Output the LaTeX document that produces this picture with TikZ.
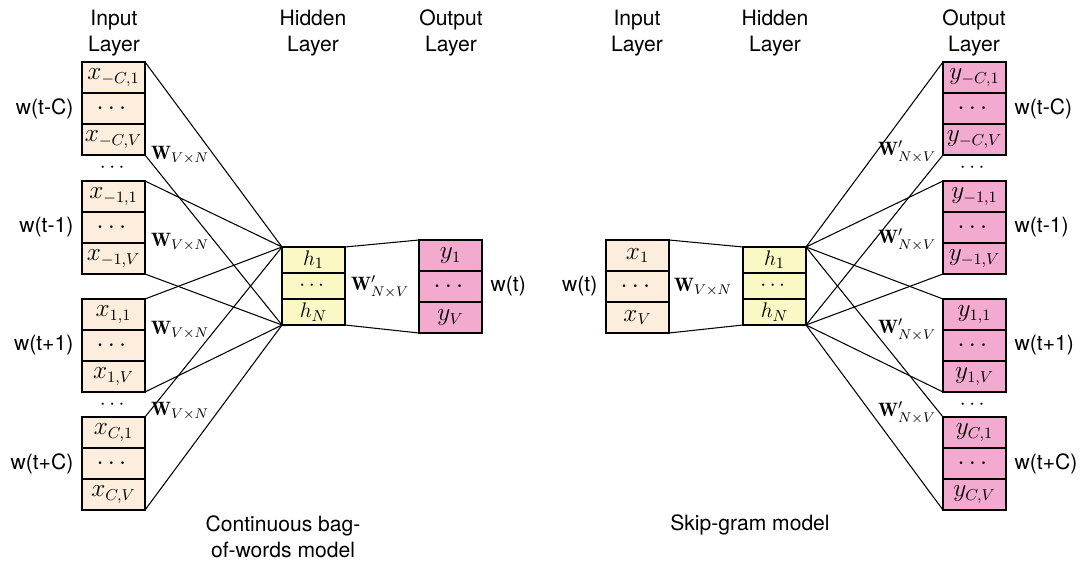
\documentclass[tikz,border=0pt]{standalone}
\usepackage{amsmath}
\usepackage{amssymb}
\usepackage{fontspec}
\setsansfont{TeX Gyre Heros}
\usepackage{tikz}
\usepackage{xcolor}
\usetikzlibrary{positioning}
\definecolor{inbg}{HTML}{FCEDDC}
\definecolor{hidbg}{HTML}{FAF8C4}
\definecolor{outbg}{HTML}{F2AACE}
\newcommand{\Wvn}{\mathbf{W}_{V\times N}}
\newcommand{\Wnv}{\mathbf{W}'_{N\times V}}

\begin{document}
\begin{tikzpicture}[x=0.2mm, y=-0.2mm, node distance=0pt,
  every node/.style={font=\sffamily\fontsize{12}{14.7}\selectfont, align=center},
  cell/.style={draw, line width=1pt, minimum width=12.6mm, minimum height=6.2mm, inner sep=0pt, outer sep=0pt, font=\fontsize{13.5}{16}\selectfont},
  incell/.style={cell, fill=inbg},
  hidcell/.style={cell, fill=hidbg, minimum height=5.2mm, font=\fontsize{12.5}{14}\selectfont},
  outcell/.style={cell, fill=outbg},
  wlabel/.style={font=\fontsize{11}{13}\selectfont},
  conn/.style={line width=0.6pt}]
  \useasboundingbox (0,0) rectangle (1080,567);

  % --- continuous bag-of-words ---
  \node at (114,33) {Input\\Layer};
  \node at (313,33) {Hidden\\Layer};
  \node at (451,33) {Output\\Layer};

  \node[incell, anchor=north west] (xc1) at (82,62) {$x_{-C,1}$};
  \node[incell, below=of xc1] (xc2) {$\cdots$};
  \node[incell, below=of xc2] (xc3) {$x_{-C,V}$};
  \node[incell, anchor=north west] (xm1) at (82,181) {$x_{-1,1}$};
  \node[incell, below=of xm1] (xm2) {$\cdots$};
  \node[incell, below=of xm2] (xm3) {$x_{-1,V}$};
  \node[incell, anchor=north west] (xp1) at (82,299) {$x_{1,1}$};
  \node[incell, below=of xp1] (xp2) {$\cdots$};
  \node[incell, below=of xp2] (xp3) {$x_{1,V}$};
  \node[incell, anchor=north west] (xq1) at (82,417) {$x_{C,1}$};
  \node[incell, below=of xq1] (xq2) {$\cdots$};
  \node[incell, below=of xq2] (xq3) {$x_{C,V}$};

  \node[left=0.5mm of xc2] (wc) {w(t-C)};
  \node[left=0.5mm of xm2] (wm) {w(t-1)};
  \node[left=0.5mm of xp2] (wp) {w(t+1)};
  \node[left=0.5mm of xq2] (wq) {w(t+C)};
  \node (dl1) at (114,168) {$\cdots$};
  \node (dl2) at (114,405) {$\cdots$};

  \node[hidcell, anchor=north west] (h1) at (282,247) {$h_1$};
  \node[hidcell, below=of h1] (h2) {$\cdots$};
  \node[hidcell, below=of h2] (h3) {$h_N$};

  \node[outcell, anchor=north west] (y1) at (419,240) {$y_1$};
  \node[outcell, below=of y1] (y2) {$\cdots$};
  \node[outcell, below=of y2] (y3) {$y_V$};
  \node[right=0.5mm of y2] (wt) {w(t)};

  \draw[conn] (xc1.north east) -- (h1.north west);
  \draw[conn] (xc3.south east) -- (h3.south west);
  \draw[conn] (xm1.north east) -- (h1.north west);
  \draw[conn] (xm3.south east) -- (h3.south west);
  \draw[conn] (xp1.north east) -- (h1.north west);
  \draw[conn] (xp3.south east) -- (h3.south west);
  \draw[conn] (xq1.north east) -- (h1.north west);
  \draw[conn] (xq3.south east) -- (h3.south west);
  \draw[conn] (h1.north east) -- (y1.north west);
  \draw[conn] (h3.south east) -- (y3.south west);

  \node[wlabel] (wa) at (180,155) {$\Wvn$};
  \node[wlabel] (wb) at (180,242) {$\Wvn$};
  \node[wlabel] (wd) at (180,330) {$\Wvn$};
  \node[wlabel] (we) at (180,411) {$\Wvn$};
  \node[wlabel] (wo) at (380,287) {$\Wnv$};

  \node (cbow) at (283,537) {Continuous bag-\\of-words model};

  % --- skip-gram ---
  \node at (637,33) {Input\\Layer};
  \node at (775,33) {Hidden\\Layer};
  \node at (974,33) {Output\\Layer};

  \node[incell, anchor=north west] (sx1) at (606,240) {$x_1$};
  \node[incell, below=of sx1] (sx2) {$\cdots$};
  \node[incell, below=of sx2] (sx3) {$x_V$};
  \node[left=0.5mm of sx2] (swt) {w(t)};

  \node[hidcell, anchor=north west] (sh1) at (743,247) {$h_1$};
  \node[hidcell, below=of sh1] (sh2) {$\cdots$};
  \node[hidcell, below=of sh2] (sh3) {$h_N$};

  \node[outcell, anchor=north west] (yc1) at (943,62) {$y_{-C,1}$};
  \node[outcell, below=of yc1] (yc2) {$\cdots$};
  \node[outcell, below=of yc2] (yc3) {$y_{-C,V}$};
  \node[outcell, anchor=north west] (ym1) at (943,181) {$y_{-1,1}$};
  \node[outcell, below=of ym1] (ym2) {$\cdots$};
  \node[outcell, below=of ym2] (ym3) {$y_{-1,V}$};
  \node[outcell, anchor=north west] (yp1) at (943,299) {$y_{1,1}$};
  \node[outcell, below=of yp1] (yp2) {$\cdots$};
  \node[outcell, below=of yp2] (yp3) {$y_{1,V}$};
  \node[outcell, anchor=north west] (yq1) at (943,417) {$y_{C,1}$};
  \node[outcell, below=of yq1] (yq2) {$\cdots$};
  \node[outcell, below=of yq2] (yq3) {$y_{C,V}$};

  \node[right=0.5mm of yc2] (swc) {w(t-C)};
  \node[right=0.5mm of ym2] (swm) {w(t-1)};
  \node[right=0.5mm of yp2] (swp) {w(t+1)};
  \node[right=0.5mm of yq2] (swq) {w(t+C)};
  \node (dr1) at (974,168) {$\cdots$};
  \node (dr2) at (974,405) {$\cdots$};

  \draw[conn] (sx1.north east) -- (sh1.north west);
  \draw[conn] (sx3.south east) -- (sh3.south west);
  \draw[conn] (sh1.north east) -- (yc1.north west);
  \draw[conn] (sh3.south east) -- (yc3.south west);
  \draw[conn] (sh1.north east) -- (ym1.north west);
  \draw[conn] (sh3.south east) -- (ym3.south west);
  \draw[conn] (sh1.north east) -- (yp1.north west);
  \draw[conn] (sh3.south east) -- (yp3.south west);
  \draw[conn] (sh1.north east) -- (yq1.north west);
  \draw[conn] (sh3.south east) -- (yq3.south west);

  \node[wlabel] (sw) at (703,287) {$\Wvn$};
  \node[wlabel] (swa) at (907,152) {$\Wnv$};
  \node[wlabel] (swb) at (907,240) {$\Wnv$};
  \node[wlabel] (swd) at (907,330) {$\Wnv$};
  \node[wlabel] (swe) at (907,413) {$\Wnv$};

  \node (skip) at (750,525) {Skip-gram model};
\end{tikzpicture}
\end{document}
